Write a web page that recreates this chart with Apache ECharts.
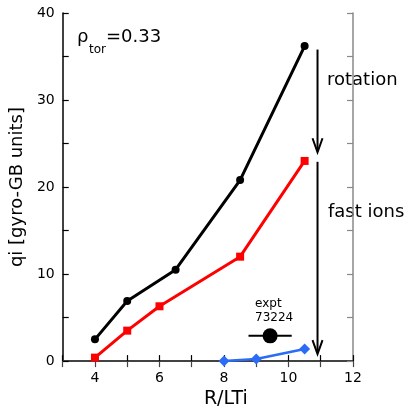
<!DOCTYPE html>
<html>
<head>
<meta charset="utf-8">
<script src="https://cdn.jsdelivr.net/npm/echarts@6/dist/echarts.min.js"></script>
<style>
  html, body { margin: 0; padding: 0; background: #fff; }
  #chart { width: 408px; height: 414px; }
</style>
</head>
<body>
<div id="chart"></div>
<script>
// Ion heat flux vs. normalized temperature gradient
const rotationX = [4, 5, 6.5, 8.5, 10.5];
const rotationY = [2.5, 6.9, 10.5, 20.8, 36.2];
const noRotationX = [4, 5, 6, 8.5, 10.5];
const noRotationY = [0.4, 3.5, 6.3, 12.0, 23.0];
const fastIonsX = [8, 9, 10.5];
const fastIonsY = [0, 0.25, 1.4];
// experimental point: [R/LTi, qi, horizontal error]
const expt = [9.43, 2.9, 0.67];
// arrows: [x, start y, tip y]
const arrows = [[10.9, 35.8, 24.0], [10.9, 22.9, 0.8]];
const xTickLabels = [4, 6, 8, 10, 12];
const yTickLabels = [0, 10, 20, 30, 40];

const FONT = 'DejaVu Sans';
const zip = (xs, ys) => xs.map((x, i) => [x, ys[i]]);

const chart = echarts.init(document.getElementById('chart'));

const frameAxis = (color) => ({
  axisLine: { show: true, lineStyle: { color: color, width: 1.5 } },
  axisTick: { show: true, inside: true, length: 6, lineStyle: { color: color, width: 1.2 } },
  splitLine: { show: false }
});

chart.setOption({
  animation: false,
  backgroundColor: '#fff',
  grid: { left: 62, right: 55, top: 13, bottom: 49 },
  xAxis: [
    Object.assign({
      type: 'value', position: 'bottom', min: 3, max: 12, interval: 1,
      name: 'R/LTi', nameLocation: 'middle', nameGap: 25,
      nameTextStyle: { fontFamily: FONT, fontSize: 19, color: '#000', padding: [0, 0, 0, 36] },
      axisLabel: {
        fontFamily: FONT, fontSize: 14, color: '#000', margin: 10,
        formatter: v => (xTickLabels.indexOf(v) >= 0 ? String(v) : '')
      }
    }, frameAxis('#000')),
    Object.assign({
      type: 'value', position: 'top', min: 3, max: 12, interval: 1,
      axisLabel: { show: false }
    }, frameAxis('#444'))
  ],
  yAxis: [
    Object.assign({
      type: 'value', position: 'left', min: 0, max: 40, interval: 5,
      name: 'qi [gyro-GB units]', nameLocation: 'middle', nameGap: 33,
      nameTextStyle: { fontFamily: FONT, fontSize: 18, color: '#000' },
      axisLabel: {
        fontFamily: FONT, fontSize: 14, color: '#000', margin: 8,
        formatter: v => (yTickLabels.indexOf(v) >= 0 ? String(v) : '')
      }
    }, frameAxis('#000')),
    Object.assign({
      type: 'value', position: 'right', min: 0, max: 40, interval: 5,
      axisLabel: { show: false }
    }, frameAxis('#888'))
  ],
  series: [
    {
      type: 'line', data: zip(rotationX, rotationY),
      symbol: 'circle', symbolSize: 8,
      lineStyle: { color: '#000', width: 3 }, itemStyle: { color: '#000' }
    },
    {
      type: 'line', data: zip(noRotationX, noRotationY),
      symbol: 'rect', symbolSize: 8,
      lineStyle: { color: '#ff0000', width: 3 }, itemStyle: { color: '#ff0000' }
    },
    {
      type: 'line', data: zip(fastIonsX, fastIonsY),
      symbol: 'diamond', symbolSize: 11,
      lineStyle: { color: '#2b6cf6', width: 2.5 }, itemStyle: { color: '#2b6cf6' }
    },
    {
      type: 'line', data: [[expt[0] - expt[2], expt[1]], [expt[0] + expt[2], expt[1]]],
      symbol: 'none', lineStyle: { color: '#000', width: 2 }
    },
    {
      type: 'scatter', data: [[expt[0], expt[1]]],
      symbol: 'circle', symbolSize: 15, itemStyle: { color: '#000', opacity: 1 }
    },
    {
      type: 'custom', data: arrows,
      encode: { x: 0, y: [1, 2] },
      renderItem: function (params, api) {
        const start = api.coord([api.value(0), api.value(1)]);
        const tip = api.coord([api.value(0), api.value(2)]);
        return {
          type: 'group',
          children: [
            { type: 'line', shape: { x1: start[0], y1: start[1], x2: tip[0], y2: tip[1] - 2 },
              style: { stroke: '#000', lineWidth: 2 } },
            { type: 'polyline',
              shape: { points: [[tip[0] - 5, tip[1] - 14], [tip[0], tip[1]], [tip[0] + 5, tip[1] - 14]] },
              style: { stroke: '#000', lineWidth: 2, fill: null } }
          ]
        };
      }
    }
  ],
  graphic: [
    { type: 'text', x: 77, y: 37, style: { text: 'ρ', font: '18px "DejaVu Sans"', fill: '#000', verticalAlign: 'middle' } },
    { type: 'text', x: 89, y: 50, style: { text: 'tor', font: '12px "DejaVu Sans"', fill: '#000', verticalAlign: 'middle' } },
    { type: 'text', x: 106, y: 37, style: { text: '=0.33', font: '18px "DejaVu Sans"', fill: '#000', verticalAlign: 'middle' } },
    { type: 'text', x: 327, y: 80, style: { text: 'rotation', font: '18px "DejaVu Sans"', fill: '#000', verticalAlign: 'middle' } },
    { type: 'text', x: 328, y: 212, style: { text: 'fast ions', font: '18px "DejaVu Sans"', fill: '#000', verticalAlign: 'middle' } },
    { type: 'text', x: 255, y: 304, style: { text: 'expt', font: '12px "DejaVu Sans"', fill: '#000', verticalAlign: 'middle' } },
    { type: 'text', x: 255, y: 318, style: { text: '73224', font: '12px "DejaVu Sans"', fill: '#000', verticalAlign: 'middle' } }
  ]
});
</script>
</body>
</html>
